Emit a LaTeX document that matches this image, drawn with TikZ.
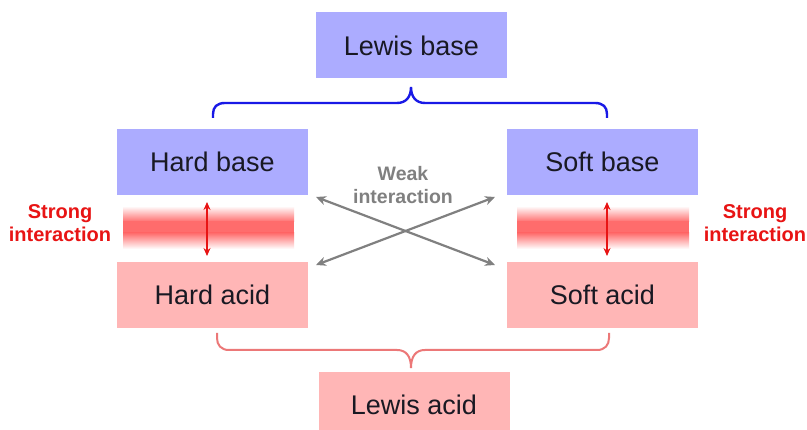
\documentclass[tikz,border=0pt]{standalone}
\usepackage{fontspec}
\setmainfont{Liberation Sans}
\usetikzlibrary{arrows.meta}
\definecolor{boxblue}{RGB}{172,172,255}
\definecolor{boxpink}{RGB}{255,182,182}
\definecolor{braceblue}{RGB}{25,25,230}
\definecolor{bracepink}{RGB}{236,120,120}
\definecolor{strongred}{RGB}{232,20,20}
\definecolor{bandred}{RGB}{255,108,108}
\definecolor{weakgray}{RGB}{128,128,128}
\definecolor{txt}{RGB}{25,25,35}
\begin{document}
\begin{tikzpicture}[x=1pt,y=-1pt,
  box/.style={minimum width=191pt, minimum height=66pt, inner sep=0pt, text=txt, font=\fontsize{27}{32}\selectfont},
  basebox/.style={box, fill=boxblue},
  acidbox/.style={box, fill=boxpink},
  stronglabel/.style={text=strongred, align=center, font=\bfseries\fontsize{20}{23}\selectfont},
  weaklabel/.style={text=weakgray, align=center, font=\bfseries\fontsize{19.5}{23}\selectfont},
  bluebrace/.style={draw=braceblue, line width=2.4pt},
  pinkbrace/.style={draw=bracepink, line width=2pt},
  strongarrow/.style={draw=strongred, line width=1.8pt, {Stealth[length=8pt,width=7pt]}-{Stealth[length=8pt,width=7pt]}},
  weakarrow/.style={draw=weakgray, line width=2.2pt, {Stealth[length=10pt,width=9pt]}-{Stealth[length=10pt,width=9pt]}}
]
\useasboundingbox (0,0) rectangle (807,430);
\clip (0,0) rectangle (807,430);
\fill[white] (0,0) rectangle (807,430);

% boxes
\node[basebox] (lb) at (411.5,45.5) {Lewis base};
\node[basebox] (hb) at (212.5,162) {Hard base};
\node[basebox] (sb) at (602.5,162) {Soft base};
\node[acidbox] (ha) at (212.5,295) {Hard acid};
\node[acidbox] (sa) at (602.5,295) {Soft acid};
\node[acidbox] (la) at (414,405) {Lewis acid};

% gradient bands
\foreach \xa/\xb in {123/294, 517/689}{
  \shade[top color=white, bottom color=bandred] (\xa,206) rectangle (\xb,222);
  \fill[bandred] (\xa,221.5) rectangle (\xb,233.5);
  \shade[top color=bandred, bottom color=white] (\xa,233) rectangle (\xb,249);
}

% labels
\node[stronglabel] (sl) at (60,223) {Strong\\interaction};
\node[stronglabel] (sr) at (755,223) {Strong\\interaction};
\node[weaklabel] (wl) at (403,185) {Weak\\interaction};

% strong interaction arrows
\coordinate (hbt) at (207,202);
\coordinate (hab) at (207,256);
\coordinate (sbt) at (607,202);
\coordinate (sab) at (607,256);
\draw[strongarrow] (hbt) -- (hab);
\draw[strongarrow] (sbt) -- (sab);

% weak interaction arrows
\coordinate (w1) at (316,197);
\coordinate (w2) at (495,265);
\coordinate (w3) at (316,265);
\coordinate (w4) at (495,197);
\draw[weakarrow] (w1) -- (w2);
\draw[weakarrow] (w3) -- (w4);

% braces
\coordinate (bl) at (213,118);
\coordinate (bt) at (411,87);
\coordinate (br) at (607,118);
\path[bluebrace] (bl) -- (213,114) .. controls (213,107) and (217,103) .. (225,103)
  -- (397,103) .. controls (406,103) and (411,97) .. (bt)
  .. controls (411,97) and (416,103) .. (425,103)
  -- (595,103) .. controls (603,103) and (607,107) .. (607,114) -- (br);

\coordinate (al) at (217,333);
\coordinate (at) at (411,368);
\coordinate (ar) at (609,333);
\path[pinkbrace] (al) -- (217,338) .. controls (217,345) and (221,350) .. (229,350)
  -- (397,350) .. controls (406,350) and (411,356) .. (at)
  .. controls (411,356) and (416,350) .. (425,350)
  -- (597,350) .. controls (605,350) and (609,345) .. (609,338) -- (ar);
\end{tikzpicture}
\end{document}
